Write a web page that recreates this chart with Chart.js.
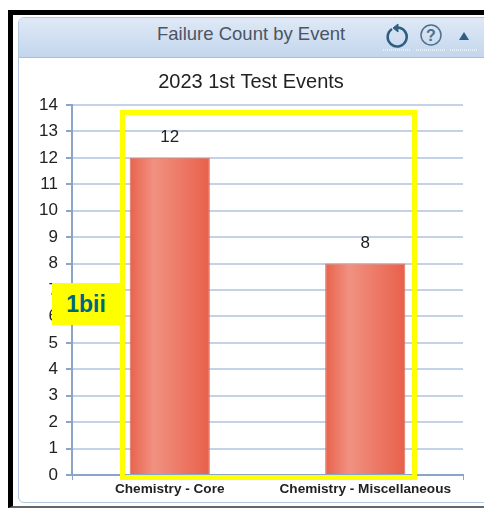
<!DOCTYPE html>
<html>
<head>
<meta charset="utf-8">
<script src="https://cdn.jsdelivr.net/npm/chart.js@4/dist/chart.umd.min.js"></script>
<style>
    html, body { margin: 0; padding: 0; background: #fff; overflow: hidden; }
    body { width: 484px; height: 508px; position: relative; font-family: "Liberation Sans", Arial, sans-serif; }
    #frame { position: absolute; left: 8px; top: 10px; width: 490px; height: 498px; box-sizing: border-box; border: 5px solid #000; border-bottom: 2px solid #666; }
    #panel { position: absolute; left: 18px; top: 17px; width: 480px; height: 486px; box-sizing: border-box; border: 1px solid #b4c8df; border-radius: 6px; background: #fff; }
    #head { position: absolute; left: 0; top: 0; right: 0; height: 39px; border-radius: 5px 5px 0 0; background: linear-gradient(#dfe9f6, #c4d6ed); border-bottom: 1px solid #a9c0da; }
    #headText { position: absolute; left: 157px; top: 34px; transform: translateY(-50%); font-size: 18.5px; color: #4b5563; white-space: nowrap; }
    #icons { position: absolute; left: 0; top: 0; }
    #graph { position: absolute; left: 0; top: 0; }
    #box { position: absolute; left: 120px; top: 110px; width: 297px; height: 370px; box-sizing: border-box; border: 5px solid #ffff00; }
    #tag { position: absolute; left: 52px; top: 283px; width: 68px; height: 42px; line-height: 42px; background: #ffff00; color: #006680; font-weight: bold; font-size: 23px; text-align: center; }
</style>
</head>
<body>
<div id="frame"></div>
<div id="panel"><div id="head"></div></div>
<div id="headText">Failure Count by Event</div>
<svg id="icons" width="484" height="60">
    <path d="M392 29 a9.5 9.5 0 1 0 6 -1.5" fill="none" stroke="#2f5f80" stroke-width="2.6"/>
    <path d="M393 28 l5 -4 v8 z" fill="#2f5f80" stroke="#2f5f80"/>
    <circle cx="431" cy="35" r="10" fill="none" stroke="#4f6f8c" stroke-width="1.5"/>
    <text x="431" y="41" text-anchor="middle" font-size="16" font-weight="bold" fill="#4f6f8c" font-family="Liberation Sans">?</text>
    <path d="M459 40 l5 -8 l5 8 z" fill="#2f5f80"/>
    <path d="M383 50 h28 M416 50 h29 M450 50 h28" stroke="#e8eef6" stroke-width="2" stroke-dasharray="1 1"/>
</svg>
<canvas id="graph" width="484" height="508"></canvas>
<div id="box"></div>
<div id="tag">1bii</div>
<script>
const chart_title = '2023 1st Test Events';
const categories = ['Chemistry - Core', 'Chemistry - Miscellaneous'];
const failures = [12, 8];
const y_max = 14;
const bar_share = 0.41;

function bar_gradient(context) {
    const x_scale = context.chart.scales.x;
    if (!x_scale || context.dataIndex === undefined) return '#ec6b57';
    const mid = x_scale.getPixelForValue(context.dataIndex);
    const half = x_scale.width / categories.length * bar_share / 2;
    // scale has no size yet on the first pass
    if (!Number.isFinite(mid) || !Number.isFinite(half)) return '#ec6b57';
    const grad = context.chart.ctx.createLinearGradient(mid - half, 0, mid + half, 0);
    grad.addColorStop(0, '#e8624c');
    grad.addColorStop(0.3, '#f19181');
    grad.addColorStop(1, '#e8604a');
    return grad;
}

// numbers above the bars
const value_labels = {
    id: 'value_labels',
    afterDatasetsDraw(chart) {
        const ctx = chart.ctx;
        ctx.save();
        ctx.font = '17px "Liberation Sans"';
        ctx.fillStyle = '#222';
        ctx.textAlign = 'center';
        ctx.textBaseline = 'bottom';
        chart.getDatasetMeta(0).data.forEach((bar, i) => {
            ctx.fillText(failures[i], bar.x, bar.y - 12);
        });
        ctx.restore();
    }
};

const canv = document.getElementById('graph').getContext('2d');
const graph = new Chart(canv, {
    type: 'bar',
    data: {
        labels: categories,
        datasets: [{
            data: failures,
            backgroundColor: bar_gradient,
            borderColor: '#d9705f',
            borderWidth: 1,
            barPercentage: bar_share,
            categoryPercentage: 1
        }]
    },
    options: {
        responsive: false,
        animation: false,
        layout: {
            padding: { left: 39, right: 21, top: 0, bottom: 0 }
        },
        plugins: {
            legend: { display: false },
            tooltip: { enabled: false },
            title: {
                display: true,
                text: chart_title,
                color: '#222',
                font: { family: '"Liberation Sans"', size: 20, weight: 'normal' },
                padding: { top: 70, bottom: 11 }
            }
        },
        scales: {
            x: {
                afterFit(scale) { scale.height = 33; },
                grid: { drawOnChartArea: false, tickLength: 5, tickColor: '#8aa5c5' },
                border: { color: '#8aa5c5', width: 2 },
                ticks: {
                    color: '#222',
                    maxRotation: 0,
                    autoSkip: false,
                    padding: 1,
                    font: { family: '"Liberation Sans"', size: 13.6, weight: 'bold' }
                }
            },
            y: {
                min: 0,
                max: y_max,
                afterFit(scale) { scale.width = 33; },
                grid: { color: '#c3d2e6', lineWidth: 2, tickLength: 6, tickColor: '#8aa5c5' },
                border: { color: '#8aa5c5', width: 2 },
                ticks: {
                    stepSize: 1,
                    color: '#222',
                    padding: 8,
                    font: { family: '"Liberation Sans"', size: 17 }
                }
            }
        }
    },
    plugins: [value_labels]
});
</script>
</body>
</html>
